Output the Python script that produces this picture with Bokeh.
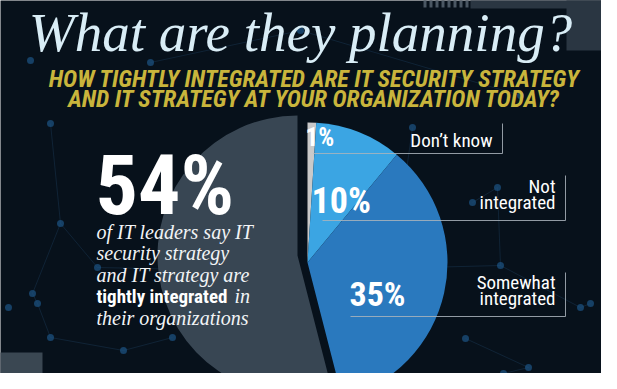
import numpy as np
from bokeh.plotting import figure
from bokeh.models import ColumnDataSource, Range1d
from bokeh.core.properties import value
from bokeh.embed import file_html
from bokeh.resources import INLINE

# ---------------- data ----------------
title = "What are they planning?"
subtitle_lines = ["HOW TIGHTLY INTEGRATED ARE IT SECURITY STRATEGY",
                  "AND IT STRATEGY AT YOUR ORGANIZATION TODAY?"]
categories = ["Don't know", "Not integrated", "Somewhat integrated", "Tightly integrated"]
shares = [1, 10, 35, 54]
pct_labels = ["1%", "10%", "35%", "54%"]
groups = ["split", "split", "split", "tight"]
legend_lines = [["Don\u2019t know"], ["Not", "integrated"], ["Somewhat", "integrated"]]
callout_lines = ["of IT leaders say IT", "security strategy", "and IT strategy are"]
callout_bold = "tightly integrated"
callout_tail = "in"
callout_last = "their organizations"

# ---------------- style / layout ----------------
BG = "#07111b"
slice_colors = ["#c9c9c9", "#3ba5e3", "#2a79be", "#384653"]
W, H = 601, 373
REF_H = 389
NARROW = "Roboto Condensed"
SERIF = "Liberation Serif"
K = 0.33  # baseline correction (fraction of font size)

def Y(py):  # picture row (from top) -> data y (up)
    return REF_H - py

def TY(baseline_px, fs):  # text anchor for a desired baseline
    return Y(baseline_px - K * fs)

p = figure(width=W, height=H, output_backend="svg", toolbar_location=None,
           x_range=Range1d(0, W), y_range=Range1d(REF_H - H, REF_H), min_border=0)
p.axis.visible = False
p.grid.visible = False
p.outline_line_color = None
p.background_fill_color = BG
p.border_fill_color = BG

# decorative blocks
p.quad(left=[470, 566], right=[620, 620], top=[Y(-5), Y(-5)], bottom=[Y(8), Y(50)],
       color="#2a3642", line_color=None)
p.quad(left=[-5], right=[42], top=[Y(352)], bottom=[Y(395)], color="#3a4752", line_color=None)
bars_x = np.arange(423, 470, 6)
p.quad(left=bars_x, right=bars_x + 3, top=Y(-2), bottom=Y(7), color="#4a5763", line_color=None)

# decorative network texture
net_x = [50, 60, 32, 8, 37, 50, 123, 172, 260, 287, 97, 243, 412, 497, 472, 405, 408, 422, 500,
         580, 590, 465, 528, 503, 150, 300, 520, 30]
net_y = [123, 223, 293, 307, 303, 337, 350, 337, 167, 155, 267, 270, 127, 187, 202, 177, 220, 267, 265,
         307, 303, 338, 367, 373, 62, 30, 95, 60]
links = [(0, 1), (1, 2), (2, 4), (4, 5), (5, 6), (6, 7), (1, 10), (10, 11), (8, 9), (12, 15), (15, 16),
         (16, 17), (17, 18), (18, 13), (13, 14), (19, 20), (21, 22), (22, 23), (18, 19), (24, 25), (25, 26)]
for a, b in links:
    p.line([net_x[a], net_x[b]], [Y(net_y[a]), Y(net_y[b])], line_color="#1b3a57", line_width=1, line_alpha=0.45)
p.scatter(x=net_x, y=[Y(v) for v in net_y], size=7, color="#1d5485", alpha=0.7, line_color=None)

# ---------------- pie ----------------
pie_cx, pie_cy = 302, Y(258.5)
explode = {"split": (5.0, -3.5), "tight": (-5.0, 3.5)}
radius = 140
cum = np.concatenate([[0], np.cumsum(shares)]) / 100.0
ends = np.pi / 2 - 2 * np.pi * cum[:-1]
starts = np.pi / 2 - 2 * np.pi * cum[1:]
cx = [pie_cx + explode[g][0] for g in groups]
cy = [pie_cy + explode[g][1] for g in groups]
src = ColumnDataSource(dict(x=cx, y=cy, start=starts, end=ends, color=slice_colors, cat=categories))
p.wedge(x="x", y="y", radius=radius, start_angle="start", end_angle="end",
        color="color", line_color=None, source=src)

# leader lines (label brackets)
brackets = [  # (x_start, y_line, x_right, y_top)
    (313, 153, 502, 123),
    (322, 220, 565, 175),
    (350, 316, 565, 272),
]
for xs, yl, xr, yt in brackets:
    p.line([xs, xr, xr], [Y(yl), Y(yl), Y(yt)], line_color="#aab4bc", line_width=1, line_alpha=0.85)

# slice percentage labels
pct_pos = [(305, 145, 25), (311, 212, 36), (349, 305, 34)]
for lab, (lx, ly, fs) in zip(pct_labels[:3], pct_pos):
    p.text(x=[lx], y=[TY(ly, fs)], text=[lab], text_font=value(NARROW), text_font_style="bold",
           text_font_size=f"{fs}px", text_color="white", text_baseline="alphabetic", text_align="left")

# legend texts
leg_pos = [(492, [146]), (555, [192, 208]), (555, [288, 304])]
for lines, (rx, bls) in zip(legend_lines, leg_pos):
    for t, bl in zip(lines, bls):
        p.text(x=[rx], y=[TY(bl, 19)], text=[t], text_font=value(NARROW), text_font_size="19px",
               text_color="white", text_align="right", text_baseline="alphabetic")

# big 54% callout
p.text(x=[95], y=[TY(213, 84)], text=[pct_labels[3]], text_font=value(NARROW), text_font_style="bold",
       text_font_size="84px", text_color="white", text_baseline="alphabetic")
body_bl = [238, 259.5, 281, 302.5, 324]
FS = 20
for t, bl in zip(callout_lines, body_bl[:3]):
    p.text(x=[96], y=[TY(bl, FS)], text=[t], text_font=value(SERIF), text_font_style="italic",
           text_font_size=f"{FS}px", text_color="#f2f4f6", text_baseline="alphabetic")
p.text(x=[96], y=[TY(body_bl[3], 19)], text=[callout_bold], text_font=value(NARROW), text_font_style="bold",
       text_font_size="19px", text_color="white", text_baseline="alphabetic")
p.text(x=[234], y=[TY(body_bl[3], FS)], text=[callout_tail], text_font=value(SERIF), text_font_style="italic",
       text_font_size=f"{FS}px", text_color="#f2f4f6", text_baseline="alphabetic")
p.text(x=[96], y=[TY(body_bl[4], FS)], text=[callout_last], text_font=value(SERIF), text_font_style="italic",
       text_font_size=f"{FS}px", text_color="#f2f4f6", text_baseline="alphabetic")

# title & subtitle
p.text(x=[300], y=[TY(50, 55)], text=[title], text_font=value(SERIF), text_font_style="italic",
       text_font_size="55px", text_color="#d9edf6", text_align="center", text_baseline="alphabetic")
for t, bl in zip(subtitle_lines, [86, 106]):
    p.text(x=[314], y=[TY(bl, 24)], text=[t], text_font=value(NARROW), text_font_style="bold italic",
           text_font_size="24px", text_color="#c9b53c", text_align="center", text_baseline="alphabetic")

open("out.html", "w").write(file_html(p, INLINE, title="What are they planning?"))
